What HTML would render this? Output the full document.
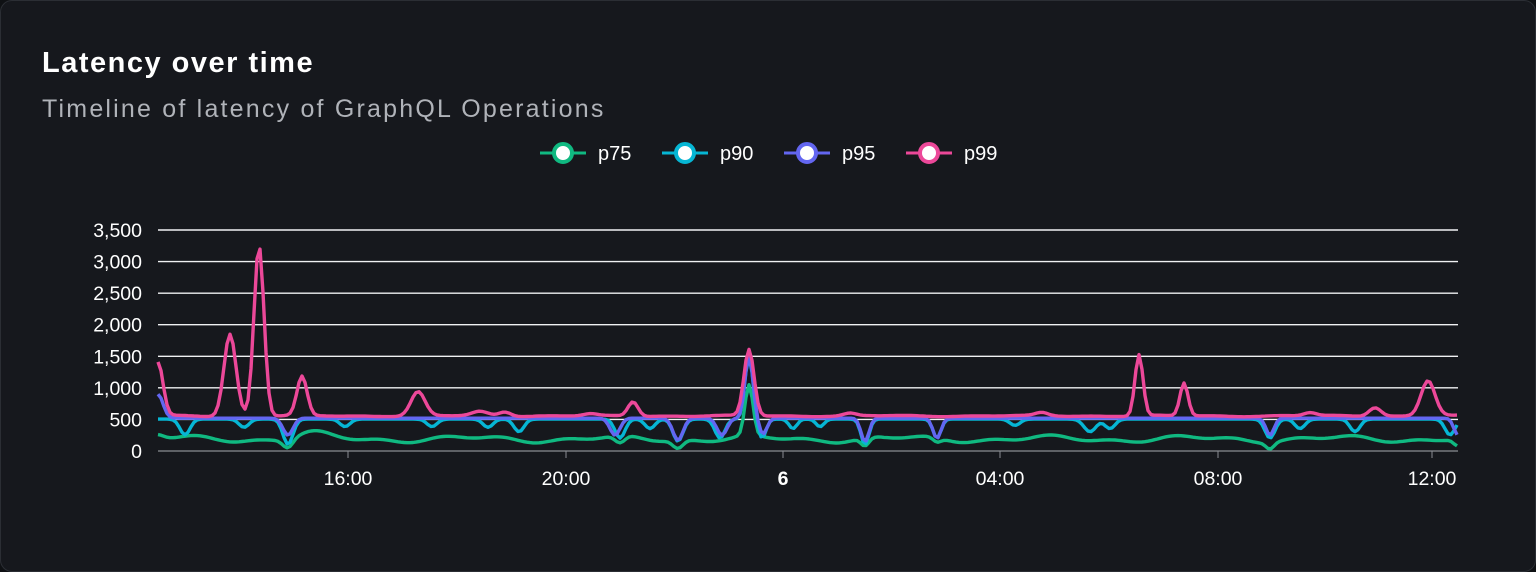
<!DOCTYPE html>
<html><head><meta charset="utf-8"><style>
html,body{margin:0;padding:0;background:#0f1114;width:1536px;height:572px;overflow:hidden}
.card{position:absolute;left:0;top:0;width:1534px;height:570px;background:#16181d;border:1px solid #2b2e34;border-radius:12px}
.t{position:absolute;left:42px;top:47px;color:#fff;font:bold 29px "Liberation Sans",sans-serif;letter-spacing:1.5px}
.s{position:absolute;left:42px;top:95px;color:#b0b3b9;font:25px "Liberation Sans",sans-serif;letter-spacing:2.2px}
svg{position:absolute;left:0;top:0}
text{font-family:"Liberation Sans",sans-serif}
</style></head><body>
<div class="card"></div>
<div class="t">Latency over time</div>
<div class="s">Timeline of latency of GraphQL Operations</div>
<svg width="1536" height="572" id="g"></svg>
<script>
const svg=document.getElementById('g');let h='';
const y0=451,k=221/3500,X0=158,X1=1458;
const Y=v=>y0-v*k;
const leg=[['#10b981','p75',540],['#06b6d4','p90',662],['#6366f1','p95',784],['#ec4899','p99',906]];
for(const [c,n,x] of leg){h+=`<line x1="${x}" y1="153" x2="${x+46}" y2="153" stroke="${c}" stroke-width="3"/><circle cx="${x+23}" cy="153" r="9" fill="#fff" stroke="${c}" stroke-width="4"/><text x="${x+58}" y="160" fill="#fff" font-size="20">${n}</text>`;}
for(let i=1;i<=7;i++){const y=Y(i*500);h+=`<line x1="${X0}" x2="${X1}" y1="${y}" y2="${y}" stroke="#f0f1f3" stroke-width="1.4"/>`;}
for(let i=0;i<=7;i++){h+=`<text x="142" y="${Y(i*500)+7}" fill="#fff" font-size="19.5" text-anchor="end">${(i*500).toLocaleString('en-US')}</text>`;}
h+=`<line x1="${X0}" x2="${X1}" y1="${y0}" y2="${y0}" stroke="#8a8d93" stroke-width="1.3"/>`;
const xt=[[348,'16:00'],[566,'20:00'],[783,'6'],[1000,'04:00'],[1218,'08:00'],[1432,'12:00']];
for(const [x,l] of xt){h+=`<line x1="${x}" x2="${x}" y1="451" y2="458" stroke="#8a8d93"/><text x="${x}" y="485" fill="#fff" font-size="19.5" text-anchor="middle" ${l=='6'?'font-weight="bold"':''}>${l}</text>`;}
function series(base,bumps,noise,ph){const pts=[];for(let x=X0;x<=X1;x+=3){let v=base+noise*(Math.sin(x/23+ph)+0.6*Math.sin(x/9.7+ph*2));for(const [c,a,s] of bumps){v+=a*Math.exp(-((x-c)**2)/(2*s*s));}pts.push([x,Y(v)]);}return 'M'+pts.map(p=>p[0]+','+p[1].toFixed(1)).join('L');}
const p75=series(190,[[288,-140,5],[620,-120,5],[678,-130,5],[749,800,4],[865,-130,4],[937,-70,4],[1270,-100,4],[1458,-120,4],[310,80,15],[158,60,6]],40,0);
const p90=series(505,[[185,-250,5],[244,-130,5],[288,-400,5],[345,-120,5],[432,-120,5],[488,-130,5],[519,-200,5],[620,-300,5],[650,-150,5],[678,-350,5],[720,-300,5],[749,1000,4],[762,-300,4],[793,-150,4],[820,-120,4],[865,-400,4],[937,-300,4],[1015,-100,5],[1090,-200,6],[1110,-150,5],[1270,-300,5],[1300,-150,5],[1355,-200,5],[1450,-250,5]],0,0);
const p95=series(520,[[158,380,5],[288,-270,5],[615,-270,5],[678,-350,5],[722,-270,5],[749,1000,4],[763,-250,4],[865,-370,4],[937,-320,4],[1270,-270,4],[1458,-270,4]],0,0);
const p99=series(555,[[158,850,5],[230,1300,6],[259,2700,5],[302,620,5],[418,380,7],[480,70,8],[505,70,6],[633,230,5],[749,1050,5],[1139,970,4],[1184,520,4],[1428,560,7],[1042,50,6],[1310,50,6],[1375,140,6],[850,40,6],[590,30,6]],8,1);
h+=`<g fill="none" stroke-width="3.4" stroke-linejoin="round"><path d="${p75}" stroke="#10b981"/><path d="${p90}" stroke="#06b6d4"/><path d="${p95}" stroke="#6366f1"/><path d="${p99}" stroke="#ec4899"/></g>`;
svg.innerHTML=h;
</script>
</body></html>
